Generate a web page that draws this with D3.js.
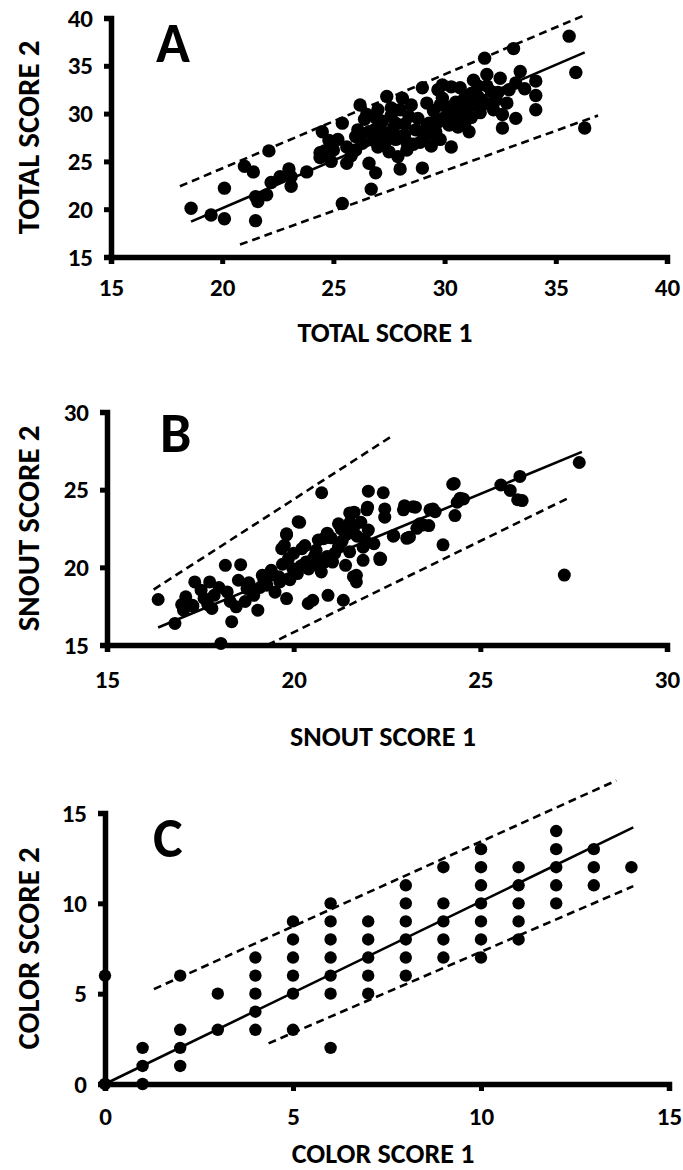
<!DOCTYPE html>
<html lang="en">
<head>
<meta charset="utf-8">
<title>Score repeatability</title>
<script src="https://d3js.org/d3.v7.min.js"></script>
<style>
  body { margin: 0; background: #fff; }
  svg text { font-family: Carlito, Lato, "Open Sans", sans-serif; font-weight: bold; fill: #000; }
</style>
</head>
<body>
<div id="chart"></div>
<script>
// ---- data ----
var totalTicks = [15, 20, 25, 30, 35, 40];
var snoutTicks = [15, 20, 25, 30];
var colorTicks = [0, 5, 10, 15];

// panel A: total score 1 vs total score 2
var totalPoints = [
  [18.6,20.1],[19.5,19.4],[20.1,22.2],[20.1,19.0],[21.5,18.8],[21.0,24.5],[21.4,23.9],[21.5,21.3],
  [21.6,20.8],[22.0,21.5],[22.1,26.1],[22.2,22.8],[22.6,23.4],[23.0,24.2],[23.1,22.4],[23.1,23.4],
  [23.8,23.9],[24.4,25.9],[24.4,25.4],[24.5,28.1],[24.8,27.2],[24.9,26.6],[25.0,26.2],[25.2,27.3],
  [25.4,20.6],[25.4,29.0],[25.6,24.8],[25.8,25.6],[26.0,27.6],[26.1,28.3],[26.2,30.9],[26.3,26.9],
  [26.4,29.4],[26.5,29.9],[26.6,24.8],[26.7,22.1],[26.9,23.8],[26.8,27.2],[26.9,28.4],[27.0,26.5],
  [27.1,27.8],[27.2,29.2],[27.3,28.0],[27.4,31.8],[27.5,26.0],[27.6,29.8],[27.7,28.5],[27.8,27.3],
  [27.9,25.5],[28.0,24.2],[28.0,30.4],[28.1,31.6],[28.2,28.9],[28.3,27.0],[28.4,29.7],[28.6,26.8],
  [28.7,28.3],[28.8,29.5],[29.0,32.7],[29.0,24.3],[29.1,27.6],[29.2,31.1],[29.3,29.0],[29.4,26.6],
  [29.5,30.3],[29.6,28.1],[29.7,32.5],[29.8,30.9],[29.8,27.3],[29.9,33.0],[30.0,29.6],[30.2,28.8],
  [30.3,26.5],[30.3,32.8],[30.4,30.4],[30.5,31.2],[30.6,28.6],[30.7,32.7],[30.8,29.9],[30.9,31.6],
  [31.0,30.5],[31.1,28.1],[31.2,32.1],[31.3,33.5],[31.4,30.9],[31.5,31.8],[31.6,30.1],[31.8,35.8],
  [31.9,34.1],[32.0,31.0],[32.1,32.3],[32.3,31.4],[32.5,33.7],[32.6,29.9],[32.6,28.5],[32.8,31.1],
  [32.9,32.5],[33.1,36.8],[33.2,33.2],[33.2,29.5],[33.4,34.4],[33.6,32.6],[34.1,33.4],[34.1,31.9],
  [34.1,30.4],[35.6,38.1],[35.9,34.3],[36.3,28.5],
  [26.2,27.4],[26.6,28.1],[26.9,29.6],[27.0,30.4],[27.3,26.8],[27.5,27.5],[27.8,29.0],[28.2,27.8],
  [28.5,30.9],[28.9,27.0],[29.2,28.6],[29.5,27.9],[29.9,31.6],[30.1,30.7],[30.5,29.4],[30.8,31.1],
  [31.2,29.6],[31.5,32.9],[31.7,31.3],[32.2,30.4],[27.6,30.6],[28.3,26.2],[29.7,29.1],[30.9,28.9],
  [31.9,32.9],[32.4,32.2],[26.0,26.2],[25.6,26.5],[24.9,25.0],[24.6,26.1]
];
var totalFit = [[18.6,18.7],[36.3,36.4]];
var totalUpper = [[18.1,22.4],[36.4,40.4]];
var totalLower = [[20.8,16.3],[36.9,29.8]];

// panel B: snout score 1 vs snout score 2
var snoutPoints = [
  [16.37,17.93],[16.82,16.39],[17.11,18.1],[17.35,19.06],[17.52,18.53],[17.05,17.24],[17.29,17.56],
  [17.75,19.06],[17.87,18.2],[17.81,17.35],[18.05,15.1],[18.17,20.13],[18.34,16.5],[18.58,20.17],
  [18.52,19.17],[18.22,18.42],[18.46,17.46],[18.75,18.63],[19.04,17.24],[18.93,18.2],[19.16,19.49],
  [19.28,18.85],[19.4,19.81],[19.63,19.06],[19.81,17.99],[19.75,21.41],[19.81,22.16],[19.86,20.56],
  [19.98,19.91],[20.16,22.9],[20.22,21.2],[20.33,20.34],[20.39,17.67],[20.51,17.88],[20.57,20.77],
  [20.75,24.8],[20.8,21.84],[20.74,19.7],[20.92,18.2],[21.04,20.34],[21.27,21.62],[21.27,22.48],
  [21.39,20.13],[21.33,17.88],[21.51,22.9],[21.62,23.55],[21.68,19.49],[21.68,19.06],[21.86,20.45],
  [21.86,21.3],[21.98,23.87],[22.0,24.9],[22.15,21.52],[22.33,20.56],[22.44,23.23],[22.44,23.76],
  [22.4,24.8],[22.68,22.05],[22.97,23.97],[23.1,21.94],[23.26,23.87],[23.38,22.8],[23.62,22.69],
  [23.73,23.76],[24.0,21.45],[24.3,25.4],[24.32,23.33],[24.55,24.4],[24.38,24.19],[25.55,25.3],
  [25.8,24.95],[26.06,25.85],[26.0,24.35],[26.12,24.3],[27.65,26.75],[27.25,19.5],
  [22.94,23.7],[23.2,23.9],[23.47,22.73],[23.3,22.51],[23.03,21.87],[22.67,22.0],[22.31,20.5],
  [20.12,22.94],[19.81,22.08],[20.66,21.76],[21.96,23.7],[21.5,23.5],[19.68,21.2],[22.31,20.6],
  [21.6,19.4],[23.65,23.7],[23.79,23.58],[24.46,24.45],[24.26,25.35],
  [19.3,19.5],[19.5,18.4],[19.7,20.2],[19.9,19.2],[20.0,20.9],[20.1,19.6],[20.3,21.4],[20.4,19.9],
  [20.5,20.5],[20.6,21.1],[20.7,20.0],[20.9,20.7],[21.0,21.9],[21.1,20.9],[21.2,21.3],[21.4,22.1],
  [21.5,21.0],[21.6,22.5],[21.7,22.0],[21.8,22.9],[21.9,21.8],[22.0,22.4],[21.2,22.8],[20.9,22.2],
  [18.8,19.0],[18.9,18.4],[19.1,18.7],[18.0,18.7],[17.6,18.0],[17.3,17.5],[17.0,17.6],[17.7,17.6],
  [18.3,17.8],[18.7,17.8],[19.2,19.2],[19.6,19.4],[20.2,20.1],[20.8,20.3],[21.3,21.7]
];
var snoutFit = [[16.37,16.13],[27.72,27.43]];
var snoutUpper = [[16.25,18.57],[22.6,28.4]];
var snoutLower = [[19.3,15.0],[27.39,24.5]];

// panel C: color score 1 vs color score 2 (integer scores)
var colorPoints = [
  [0,6],[0,0],[1,0],[1,1],[1,2],[2,1],[2,2],[2,3],[2,6],[3,3],[3,5],
  [4,3],[4,4],[4,5],[4,6],[4,7],[5,3],[5,5],[5,6],[5,7],[5,8],[5,9],
  [6,2],[6,5],[6,6],[6,7],[6,8],[6,9],[6,10],[7,5],[7,6],[7,7],[7,8],[7,9],
  [8,6],[8,7],[8,8],[8,9],[8,10],[8,11],[9,7],[9,8],[9,9],[9,10],[9,12],
  [10,7],[10,8],[10,9],[10,10],[10,11],[10,12],[10,13],[11,8],[11,9],[11,10],[11,11],[11,12],
  [12,10],[12,11],[12,12],[12,13],[12,14],[13,11],[13,12],[13,13],[14,12]
];
var colorFit = [[0,0],[14.05,14.2]];
var colorUpper = [[1.3,5.25],[13.6,16.8]];
var colorLower = [[4.35,2.25],[14.05,10.95]];

// ---- drawing ----
var W = 683, H = 1170;
var svg = d3.select("#chart").append("svg")
  .attr("width", W).attr("height", H);

svg.append("rect").attr("width", W).attr("height", H).attr("fill", "#fff");

function drawPanel(p) {
  var x = d3.scaleLinear().domain(p.xDomain).range(p.xRange);
  var y = d3.scaleLinear().domain(p.yDomain).range(p.yRange);
  var g = svg.append("g");

  // regression line and prediction bounds
  var line = d3.line().x(function(d) { return x(d[0]); }).y(function(d) { return y(d[1]); });
  g.append("path").datum(p.fit).attr("d", line)
    .attr("stroke", "#000").attr("stroke-width", 2.6).attr("fill", "none");
  [p.upper, p.lower].forEach(function(b) {
    g.append("path").datum(b).attr("d", line)
      .attr("stroke", "#000").attr("stroke-width", 2.6).attr("fill", "none")
      .attr("stroke-dasharray", "8,5");
  });

  // points
  g.selectAll("circle").data(p.points).enter().append("circle")
    .attr("cx", function(d) { return x(d[0]); })
    .attr("cy", function(d) { return y(d[1]); })
    .attr("r", p.r)
    .attr("fill", "#000");

  // axes
  var xAxis = g.append("g").attr("transform", "translate(0," + p.yRange[0] + ")")
    .call(d3.axisBottom(x).tickValues(p.ticks).tickSize(7).tickPadding(p.xPad).tickFormat(d3.format("d")));
  var yAxis = g.append("g").attr("transform", "translate(" + p.xRange[0] + ",0)")
    .call(d3.axisLeft(y).tickValues(p.ticks).tickSize(7).tickPadding(11).tickFormat(d3.format("d")));
  [xAxis, yAxis].forEach(function(a) {
    a.select(".domain").attr("stroke", "#000").attr("stroke-width", 5.5);
    a.selectAll(".tick line").attr("stroke", "#000").attr("stroke-width", 5);
    a.selectAll("text").attr("font-size", 25).attr("font-family", null);
  });

  // axis titles
  g.append("text")
    .attr("x", (p.xRange[0] + p.xRange[1]) / 2 - 4)
    .attr("y", p.yRange[0] + p.titleGap)
    .attr("text-anchor", "middle")
    .attr("font-size", 28)
    .text(p.xTitle);
  g.append("text")
    .attr("transform", "translate(39," + ((p.yRange[0] + p.yRange[1]) / 2) + ") rotate(-90)")
    .attr("text-anchor", "middle")
    .attr("font-size", 31)
    .text(p.yTitle);

  // panel letter
  g.append("text")
    .attr("x", p.letterPos[0]).attr("y", p.letterPos[1])
    .attr("font-size", 56)
    .text(p.letter);
}

drawPanel({
  xDomain: [15, 40], yDomain: [15, 40], xRange: [111, 667], yRange: [257, 18],
  ticks: totalTicks, points: totalPoints, fit: totalFit, upper: totalUpper, lower: totalLower,
  r: 6.7, xPad: 14, titleGap: 85,
  xTitle: "TOTAL SCORE 1", yTitle: "TOTAL SCORE 2", letter: "A", letterPos: [156, 62]
});
drawPanel({
  xDomain: [15, 30], yDomain: [15, 30], xRange: [107, 667], yRange: [645, 412],
  ticks: snoutTicks, points: snoutPoints, fit: snoutFit, upper: snoutUpper, lower: snoutLower,
  r: 6.5, xPad: 18, titleGap: 101,
  xTitle: "SNOUT SCORE 1", yTitle: "SNOUT SCORE 2", letter: "B", letterPos: [160, 452]
});
drawPanel({
  xDomain: [0, 15], yDomain: [0, 15], xRange: [105, 669], yRange: [1084, 813],
  ticks: colorTicks, points: colorPoints, fit: colorFit, upper: colorUpper, lower: colorLower,
  r: 6.2, xPad: 16, titleGap: 79,
  xTitle: "COLOR SCORE 1", yTitle: "COLOR SCORE 2", letter: "C", letterPos: [153, 857]
});
</script>
</body>
</html>
